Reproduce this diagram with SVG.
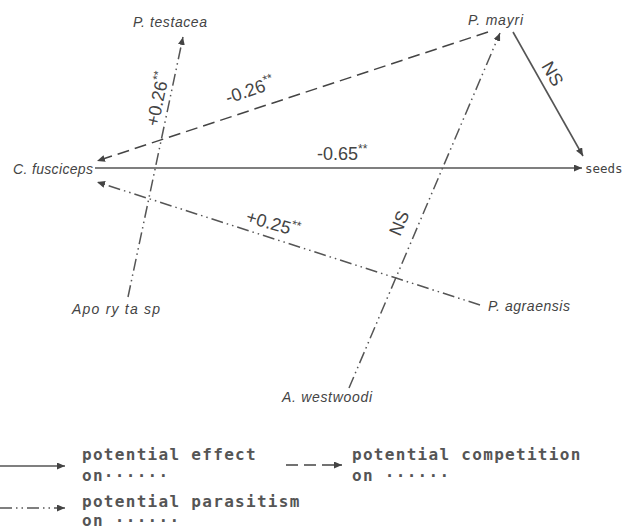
<svg xmlns="http://www.w3.org/2000/svg" width="625" height="531" viewBox="0 0 625 531">
<style>
.lbl{font-family:"Liberation Sans",Arial,sans-serif;font-style:italic;font-size:14px;fill:#444}
.num{font-family:"Liberation Sans",Arial,sans-serif;font-size:18px;fill:#444}
.sup{font-size:12px}
.mono{font-family:"DejaVu Sans Mono",monospace;font-weight:bold;font-size:16px;letter-spacing:1.3px;fill:#555}
.solid{stroke:#555;stroke-width:1.6;fill:none}
.dash{stroke:#444;stroke-width:1.5;fill:none;stroke-dasharray:12 6}
.dd{stroke:#555;stroke-width:1.5;fill:none;stroke-dasharray:12 4 1.5 4 1.5 4}
</style>
<defs>
<marker id="ah" markerUnits="userSpaceOnUse" markerWidth="9" markerHeight="7" refX="8" refY="3.5" orient="auto">
<path d="M0,0 L8,3.5 L0,7 z" fill="#444"/>
</marker>
</defs>
<rect width="625" height="531" fill="#fff"/>
<g id="connectors">
<line class="solid" x1="95" y1="168" x2="582" y2="168" marker-end="url(#ah)"/>
<line class="solid" x1="513" y1="32" x2="583" y2="156" marker-end="url(#ah)"/>
<line class="dash" x1="488" y1="32" x2="97" y2="161" marker-end="url(#ah)"/>
<line class="dd" x1="128" y1="297" x2="183" y2="37" marker-end="url(#ah)"/>
<line class="dd" x1="480" y1="305" x2="97" y2="182" marker-end="url(#ah)"/>
<line class="dd" x1="349" y1="388" x2="500" y2="33" marker-end="url(#ah)"/>
<text class="num" x="317" y="160">-0.65<tspan class="sup" dy="-7">**</tspan></text>
<text class="num" transform="translate(228,104) rotate(-19)">-0.26<tspan class="sup" dy="-7">**</tspan></text>
<text class="num" transform="translate(158,127) rotate(-78)">+0.26<tspan class="sup" dy="-7">**</tspan></text>
<text class="num" transform="translate(245,222) rotate(16)">+0.25<tspan class="sup" dy="-7">**</tspan></text>
<text class="num" transform="translate(541,66) rotate(60)">NS</text>
<text class="num" transform="translate(400,237) rotate(-67)">NS</text>
</g>
<g id="p-testacea"><text class="lbl" x="133" y="27" textLength="74" lengthAdjust="spacing">P. testacea</text></g>
<g id="p-mayri"><text class="lbl" x="468" y="25" textLength="55" lengthAdjust="spacing">P. mayri</text></g>
<g id="c-fusciceps"><text class="lbl" x="13" y="174" textLength="80" lengthAdjust="spacing">C. fusciceps</text></g>
<g id="seeds"><text x="585" y="173" style="font-family:'DejaVu Sans Mono',monospace;font-size:12.5px;fill:#444">seeds</text></g>
<g id="apocrypta"><text class="lbl" x="72" y="314" textLength="88" lengthAdjust="spacing">Apo ry ta sp</text></g>
<g id="p-agraensis"><text class="lbl" x="488" y="311" textLength="82" lengthAdjust="spacing">P. agraensis</text></g>
<g id="a-westwoodi"><text class="lbl" x="282" y="402" textLength="90" lengthAdjust="spacing">A. westwoodi</text></g>
<g id="legend">
<line class="solid" x1="0" y1="466" x2="65" y2="466" marker-end="url(#ah)"/>
<line class="dash" x1="286" y1="465" x2="342" y2="465" stroke-dasharray="9 4" marker-end="url(#ah)"/>
<line class="dd" x1="0" y1="508" x2="65" y2="508" marker-end="url(#ah)"/>
<text class="mono" x="82" y="460">potential effect</text>
<text class="mono" x="82" y="481">on······</text>
<text class="mono" x="352" y="460">potential competition</text>
<text class="mono" x="352" y="481">on ······</text>
<text class="mono" x="82" y="507">potential parasitism</text>
<text class="mono" x="82" y="526">on ······</text>
</g>
</svg>
